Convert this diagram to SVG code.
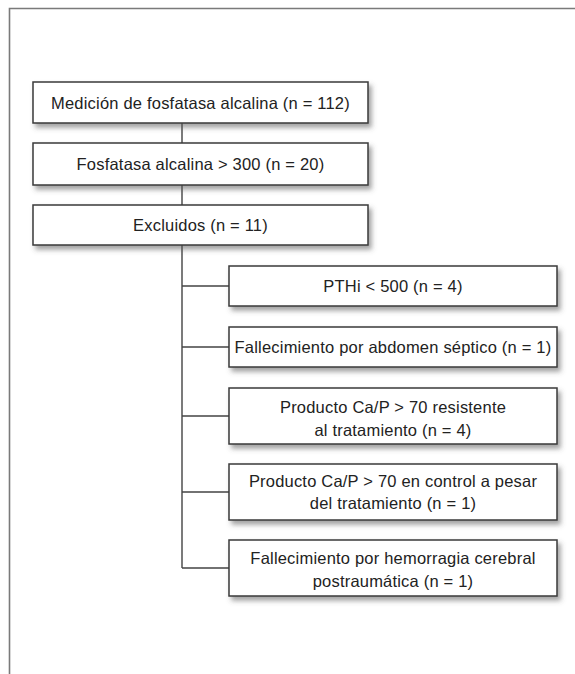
<svg xmlns="http://www.w3.org/2000/svg" width="575" height="674" viewBox="0 0 575 674">
<defs>
<filter id="sh" x="-10%" y="-20%" width="125%" height="160%">
<feDropShadow dx="3" dy="4" stdDeviation="2.5" flood-color="#555" flood-opacity="0.55"/>
</filter>
</defs>
<style>
.box{fill:#fff;stroke:#3a3a3a;stroke-width:1.5;filter:url(#sh)}
.t{font-family:"Liberation Sans",Arial,sans-serif;font-size:16.5px;fill:#222;text-anchor:middle;letter-spacing:0.2px}
.c{stroke:#444;stroke-width:1.4;fill:none}
.frame{stroke:#7a7a7a;stroke-width:1.6;fill:none}
</style>
<rect width="575" height="674" fill="#fff"/>
<path class="frame" d="M9.5,674 V8.5 H575"/>
<g id="connectors">
<path class="c" d="M182,123 V143 M182,185 V205 M182,245 V568 M182,286 H229 M182,347 H229 M182,416 H229 M182,492 H229 M182,568 H229"/>
</g>
<g id="n1"><rect class="box" x="33" y="82" width="335" height="41"/><text class="t" x="200.5" y="108.5">Medición de fosfatasa alcalina (n = 112)</text></g>
<g id="n2"><rect class="box" x="33" y="143" width="335" height="42"/><text class="t" x="200.5" y="170">Fosfatasa alcalina &gt; 300 (n = 20)</text></g>
<g id="n3"><rect class="box" x="33" y="205" width="335" height="40"/><text class="t" x="200.5" y="231">Excluidos (n = 11)</text></g>
<g id="n4"><rect class="box" x="229" y="266" width="328" height="40"/><text class="t" x="393" y="292">PTHi &lt; 500 (n = 4)</text></g>
<g id="n5"><rect class="box" x="229" y="327" width="328" height="40"/><text class="t" x="393" y="353">Fallecimiento por abdomen séptico (n = 1)</text></g>
<g id="n6"><rect class="box" x="229" y="388" width="328" height="56"/><text class="t" x="393" y="413">Producto Ca/P &gt; 70 resistente</text><text class="t" x="393" y="436">al tratamiento (n = 4)</text></g>
<g id="n7"><rect class="box" x="229" y="464" width="328" height="56"/><text class="t" x="393" y="486.5">Producto Ca/P &gt; 70 en control a pesar</text><text class="t" x="393" y="509">del tratamiento (n = 1)</text></g>
<g id="n8"><rect class="box" x="229" y="540" width="328" height="56"/><text class="t" x="393" y="564">Fallecimiento por hemorragia cerebral</text><text class="t" x="393" y="586.5">postraumática (n = 1)</text></g>
</svg>
